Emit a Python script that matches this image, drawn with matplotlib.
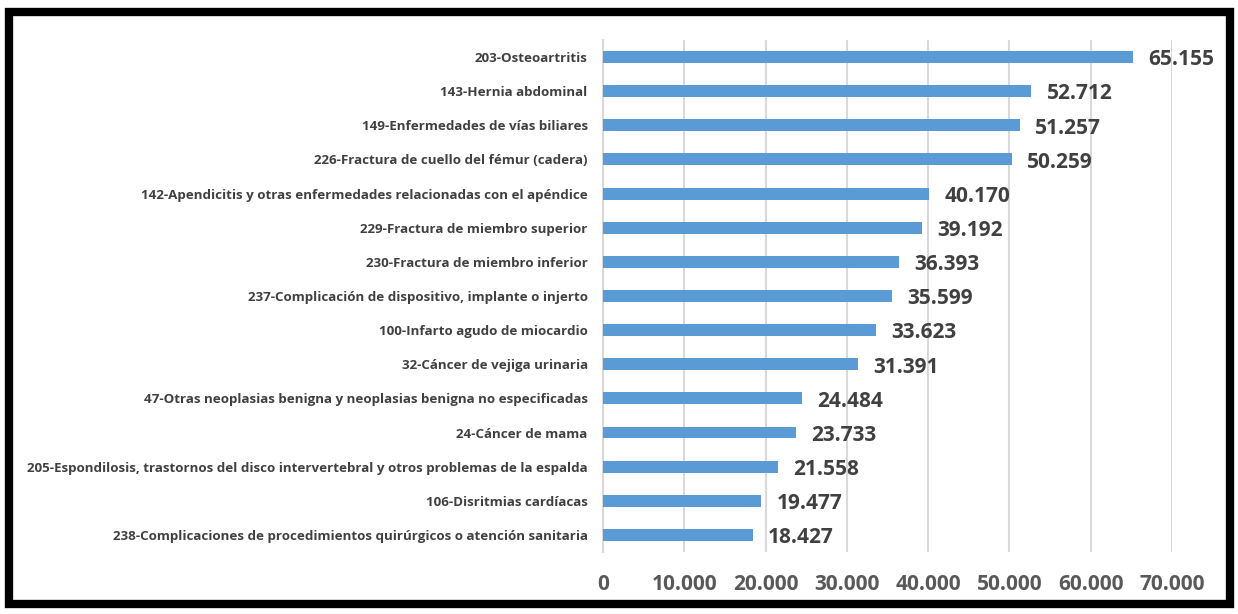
import matplotlib.pyplot as plt
from matplotlib.patches import Rectangle
import numpy as np

# data, top to bottom as in the chart
categories = [
    '203-Osteoartritis',
    '143-Hernia abdominal',
    '149-Enfermedades de vías biliares',
    '226-Fractura de cuello del fémur (cadera)',
    '142-Apendicitis y otras enfermedades relacionadas con el apéndice',
    '229-Fractura de miembro superior',
    '230-Fractura de miembro inferior',
    '237-Complicación de dispositivo, implante o injerto',
    '100-Infarto agudo de miocardio',
    '32-Cáncer de vejiga urinaria',
    '47-Otras neoplasias benigna y neoplasias benigna no especificadas',
    '24-Cáncer de mama',
    '205-Espondilosis, trastornos del disco intervertebral y otros problemas de la espalda',
    '106-Disritmias cardíacas',
    '238-Complicaciones de procedimientos quirúrgicos o atención sanitaria',
]
values = [65155, 52712, 51257, 50259, 40170, 39192, 36393, 35599,
          33623, 31391, 24484, 23733, 21558, 19477, 18427]
xticks = [0, 10000, 20000, 30000, 40000, 50000, 60000, 70000]


def fmt(v):
    # spanish thousands separator
    return '{:,}'.format(v).replace(',', '.')


plt.rcParams['font.family'] = ['Open Sans', 'DejaVu Sans']

fig = plt.figure(figsize=(12.38, 6.14), dpi=100)
ax = fig.add_axes([0.487, 0.101, 0.4597, 0.834])

y = np.arange(len(categories))
ax.barh(y, values, height=0.35, color='#5B9BD5', zorder=3)

for yi, v in zip(y, values):
    ax.annotate(fmt(v), (v, yi), xytext=(11, -2), textcoords='offset points',
                ha='left', va='center', fontsize=15, fontweight='bold',
                color='#404040', zorder=4)

ax.set_ylim(len(categories) - 0.5, -0.5)
ax.set_xlim(0, 70000)
ax.set_yticks(y)
ax.set_yticklabels(categories, fontsize=9.6, fontweight='bold', color='#404040')
ax.set_xticks(xticks)
ax.set_xticklabels([fmt(t) for t in xticks], fontsize=15, fontweight='bold',
                   color='#595959')
ax.tick_params(axis='y', length=0, pad=11)
ax.tick_params(axis='x', length=0, pad=16)

ax.grid(True, axis='x', color='#D9D9D9', linewidth=1.5, zorder=0)
for s in ['top', 'right', 'bottom']:
    ax.spines[s].set_visible(False)
ax.spines['left'].set_color('#D9D9D9')
ax.spines['left'].set_linewidth(1.5)

# thick black frame round the whole chart
fig.patches.append(Rectangle((9 / 1238, 1 - 604 / 614), 1221 / 1238, 592 / 614,
                             transform=fig.transFigure, fill=False,
                             edgecolor='black', linewidth=6))

plt.savefig('out.png', dpi=100)
plt.close()
